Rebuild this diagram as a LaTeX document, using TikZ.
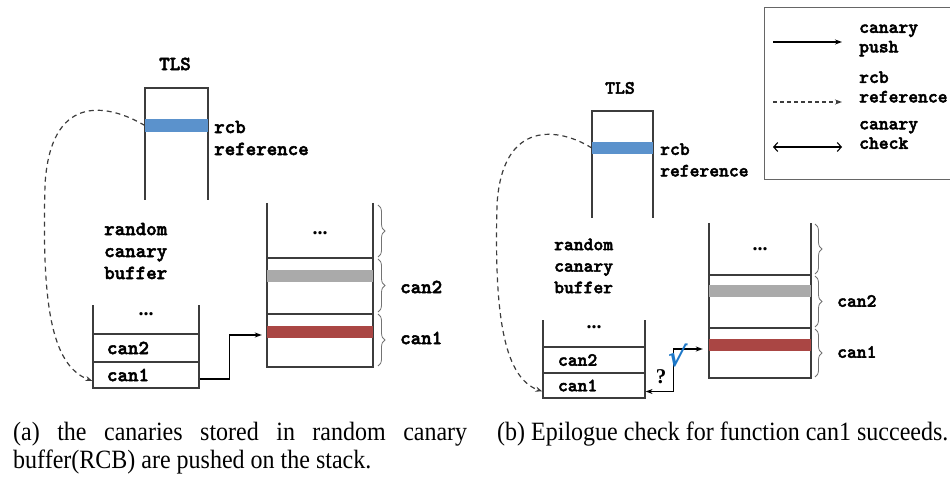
\documentclass[tikz,border=0pt]{standalone}
\usepackage{fontspec}
\usepackage{graphicx}
\setmainfont{Liberation Serif}
\newfontfamily\symfont{DejaVu Sans}
\newfontfamily\lblfont[FakeBold=2.5]{lmmonolt10-bold.otf}
\usetikzlibrary{arrows.meta,decorations.pathreplacing}
\definecolor{rcbblue}{RGB}{91,146,204}
\definecolor{slotgray}{RGB}{170,170,170}
\definecolor{slotred}{RGB}{170,70,68}
\definecolor{okblue}{RGB}{30,120,200}
\definecolor{linegray}{RGB}{60,60,60}
\tikzset{
  ln/.style={draw=linegray, line width=1.2pt},
  lblA/.style={inner sep=0pt, font=\lblfont\fontsize{20}{22}\selectfont},
  lblB/.style={inner sep=0pt, font=\lblfont\fontsize{18.7}{21.5}\selectfont},
  lblL/.style={inner sep=0pt, font=\lblfont\fontsize{18.7}{19.5}\selectfont},
  dotsA/.style={inner sep=0pt, font=\bfseries\fontsize{20}{20}\selectfont},
  cellA/.style={ln, minimum width=106pt, minimum height=#1, text width=78pt, inner xsep=14pt, inner ysep=0pt, align=left, font=\lblfont\fontsize{20}{22}\selectfont},
  cellB/.style={ln, minimum width=102pt, minimum height=#1, text width=72pt, inner xsep=15pt, inner ysep=0pt, align=left, font=\lblfont\fontsize{18.7}{21.5}\selectfont},
  emptycell/.style={ln, minimum width=#1, inner sep=0pt},
  bar/.style={inner sep=0pt, draw=none, minimum height=12pt},
  pushArrow/.style={draw=black, line width=1.1pt, -{Stealth[length=7pt,width=5pt]}},
  refArrow/.style={draw=linegray, line width=1.2pt, dash pattern=on 5pt off 4pt, -{Stealth[length=7pt,width=5pt]}},
  checkArrow/.style={draw=black, line width=1.1pt, {Stealth[length=7pt,width=5pt]}-{Stealth[length=7pt,width=5pt]}},
  legCheck/.style={draw=black, line width=1.1pt, {Straight Barb[length=4pt,width=9pt]}-{Straight Barb[length=4pt,width=9pt]}},
  bracestyle/.style={draw=black!55, line width=0.8pt, decorate, decoration={brace, amplitude=7pt}},
  captext/.style={inner sep=0pt, font=\fontsize{24}{28}\selectfont},
}
\begin{document}
\begin{tikzpicture}[x=1pt,y=-1pt]
\useasboundingbox (0,0) rectangle (950,478);

% ================= panel (a) =================
\node[lblA] (a-tls) at (175,64) {TLS};
\draw[ln] (145,200) -- (145,88) -- (208,88) -- (208,200);
\node[bar, fill=rcbblue, minimum width=63pt, minimum height=13pt] (a-rcb) at (176.5,125.5) {};
\node[lblA, align=left, anchor=west] (a-rcbl) at (214,138) {rcb\\reference};

\node[lblA, align=left, anchor=west] (a-buf) at (104,251) {random\\canary\\buffer};

% small stack
\draw[ln] (93,305) -- (93,334) (199,305) -- (199,334);
\node[dotsA] (a-dots) at (146,314) {...};
\node[cellA=28pt] (a-can2) at (146,348) {can2};
\node[cellA=26pt] (a-can1) at (146,375) {can1};

% big stack
\draw[ln] (267,203) -- (267,258) (373,203) -- (373,258);
\node[dotsA] (a-sdots) at (320,233) {...};
\node[emptycell=106pt, minimum height=56pt] (a-s2) at (320,286) {};
\node[emptycell=106pt, minimum height=53pt] (a-s1) at (320,340.5) {};
\node[bar, fill=slotgray, minimum width=106pt] (a-gray) at (320,276) {};
\node[bar, fill=slotred, minimum width=106pt] (a-red) at (320,332) {};

\draw[bracestyle] (378,205) -- (378,257);
\draw[bracestyle] (378,259) -- (378,312);
\draw[bracestyle] (378,314) -- (378,366);
\node[lblA, anchor=west] (a-l2) at (400,287) {can2};
\node[lblA, anchor=west] (a-l1) at (400,338) {can1};

% connectors (a)
\draw[refArrow] (a-rcb.west) .. controls (105,102) and (50,95) .. (45,185)
   .. controls (42,300) and (50,365) .. ([yshift=-6pt]a-can1.west);
\draw[pushArrow] ([yshift=-4pt]a-can1.east) -- ++(30pt,0) |- ([xshift=-5pt,yshift=-3pt]a-red.west);

% ================= panel (b) =================
\node[lblB] (b-tls) at (620,88) {TLS};
\draw[ln] (592,218) -- (592,111) -- (653,111) -- (653,218);
\node[bar, fill=rcbblue, minimum width=61pt, minimum height=12pt] (b-rcb) at (622.5,148) {};
\node[lblB, align=left, anchor=west] (b-rcbl) at (660,160) {rcb\\reference};

\node[lblB, align=left, anchor=west] (b-buf) at (554,266) {random\\canary\\buffer};

% small stack
\draw[ln] (543,320) -- (543,347) (645,320) -- (645,347);
\node[dotsA] (b-dots) at (594,327) {...};
\node[cellB=26pt] (b-can2) at (594,360) {can2};
\node[cellB=25pt] (b-can1) at (594,385.5) {can1};

% big stack
\draw[ln] (709,223) -- (709,275) (811,223) -- (811,275);
\node[dotsA] (b-sdots) at (760,249) {...};
\node[emptycell=102pt, minimum height=53pt] (b-s2) at (760,301.5) {};
\node[emptycell=102pt, minimum height=50pt] (b-s1) at (760,353) {};
\node[bar, fill=slotgray, minimum width=102pt] (b-gray) at (760,291) {};
\node[bar, fill=slotred, minimum width=102pt] (b-red) at (760,345) {};

\draw[bracestyle] (815,224) -- (815,274);
\draw[bracestyle] (815,276) -- (815,327);
\draw[bracestyle] (815,329) -- (815,377);
\node[lblB, anchor=west] (b-l2) at (837,301) {can2};
\node[lblB, anchor=west] (b-l1) at (837,352) {can1};

% connectors (b)
\draw[refArrow] (b-rcb.west) .. controls (560,128) and (502,118) .. (497,205)
   .. controls (494,320) and (505,378) .. ([yshift=-6pt]b-can1.west);
\draw[checkArrow] ([yshift=-6pt]b-can1.east) -- ++(28pt,0) |- ([xshift=-6pt,yshift=-4pt]b-red.west);
\node[inner sep=0pt, font=\bfseries\fontsize{21}{21}\selectfont] (b-q) at (661,377) {?};
\node[inner sep=0pt, text=okblue, font=\symfont\bfseries\fontsize{27}{27}\selectfont, xslant=0.15] (b-ok) at (677,355) {√};

% ================= legend =================
\draw[draw=black!60, line width=1pt] (951,8) -- (764,8) -- (764,180) -- (951,180);
\coordinate (l1s) at (773,42); \coordinate (l1e) at (842,42);
\coordinate (l2s) at (773,102); \coordinate (l2e) at (842,102);
\coordinate (l3s) at (773,147); \coordinate (l3e) at (842,147);
\draw[pushArrow] (l1s) -- (l1e);
\draw[refArrow, dash pattern=on 4pt off 3pt] (l2s) -- (l2e);
\draw[legCheck] (l3s) -- (l3e);
\node[lblL, align=left, anchor=west] (lg1) at (859,40.5) {canary\\push};
\node[lblL, align=left, anchor=west] (lg2) at (859,87) {rcb\\reference};
\node[lblL, align=left, anchor=west] (lg3) at (859,135) {canary\\check};

% ================= captions =================
\node[captext, anchor=base west] (capa1) at (13,440) {\scalebox{1}[1.1]{\makebox[454pt][s]{(a) the canaries stored in random canary}}};
\node[captext, anchor=base west] (capa2) at (13,468) {\scalebox{1}[1.1]{buffer(RCB) are pushed on the stack.}};
\node[captext, anchor=base west] (capb) at (497,440) {\scalebox{1}[1.1]{(b) Epilogue check for function can1 succeeds.}};
\end{tikzpicture}
\end{document}
